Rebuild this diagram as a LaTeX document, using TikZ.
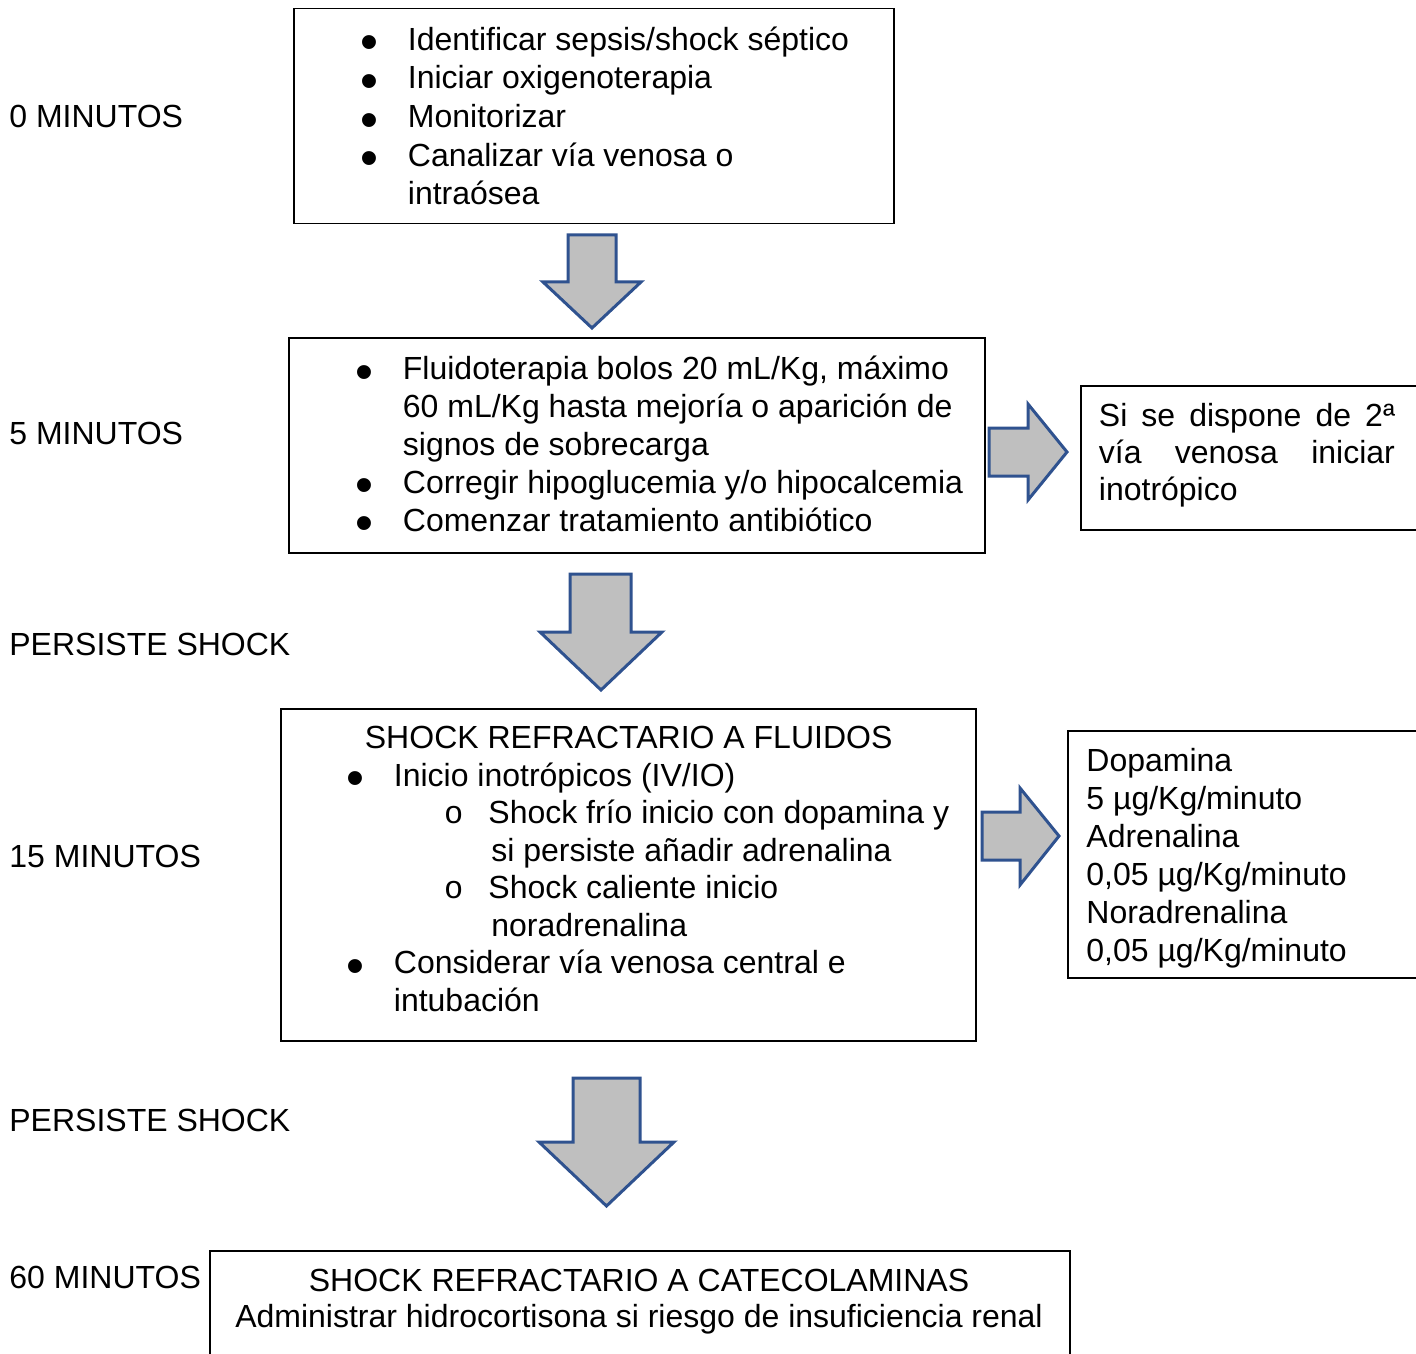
\documentclass[tikz,border=0pt]{standalone}
\usepackage{fontspec}
\usepackage{graphicx}
\setmainfont{Liberation Sans}
\newfontfamily\monofont{Liberation Mono}
\definecolor{arrowblue}{HTML}{2F528F}
\definecolor{arrowgray}{HTML}{BFBFBF}
\newcommand{\itm}{\makebox[23.75pt][l]{\smash{\raisebox{-0.3em}{\scalebox{1.6}{\textbullet}}}}}
\newcommand{\subitm}{\makebox[22.2pt][l]{\monofont o}}
\begin{document}
\begin{tikzpicture}[
        x = 0.5pt, y = -0.5pt, % pixel grid, y down
        box/.style = {draw, line width=0.75pt, inner sep=0pt, anchor=north west},
        txt/.style = {inner sep=0pt, align=left, anchor=base west}, % base = last line
        blockarrow/.style = {draw=arrowblue, fill=arrowgray, line width=1.5pt},
        font = \fontsize{16}{19}\selectfont,
    ]
    \useasboundingbox (0,0) rectangle (1416,1353);
    \clip (0,0) rectangle (1416,1353);
    % time labels
    \node[txt] (l0) at (9,128) {0 MINUTOS};
    \node[txt] (l5) at (9,444) {5 MINUTOS};
    \node[txt] (p1) at (9,655) {PERSISTE SHOCK};
    \node[txt] (l15) at (9,867) {15 MINUTOS};
    \node[txt] (p2) at (9,1131) {PERSISTE SHOCK};
    \node[txt] (l60) at (9,1288) {60 MINUTOS};
    % boxes
    \node[box, minimum width=300pt, minimum height=107.5pt] (b0) at (293,8) {};
    \node[box, minimum width=348pt, minimum height=107.5pt] (b5) at (288,337) {};
    \node[box, minimum width=170pt, minimum height=72pt] (s5) at (1080,385) {};
    \node[box, minimum width=347.5pt, minimum height=166pt] (b15) at (280,708) {};
    \node[box, minimum width=176.5pt, minimum height=123.5pt] (s15) at (1067,730) {};
    \node[box, minimum width=430pt, minimum height=60pt] (b60) at (209,1250) {};
    % box texts
    \node[txt, font=\fontsize{16}{19.35}\selectfont] (t0) at (360,205) {%
        \itm Identificar sepsis/shock séptico\\
        \itm Iniciar oxigenoterapia\\
        \itm Monitorizar\\
        \itm Canalizar vía venosa o\\
        \hspace*{23.75pt}intraósea};
    \node[txt, font=\fontsize{16}{18.9}\selectfont] (t5) at (355,531) {%
        \itm Fluidoterapia bolos 20 mL/Kg, máximo\\
        \hspace*{23.75pt}60 mL/Kg hasta mejoría o aparición de\\
        \hspace*{23.75pt}signos de sobrecarga\\
        \itm Corregir hipoglucemia y/o hipocalcemia\\
        \itm Comenzar tratamiento antibiótico};
    \node[txt, text width=148pt, align=justify, font=\fontsize{16}{18.5}\selectfont] (ts5) at (1098.5,426)
        {Si se dispone de 2ª vía venosa iniciar \mbox{inotrópico}};
    \node[txt, font=\fontsize{16}{18.75}\selectfont] (t15) at (346,1011) {%
        \hspace*{9.25pt}SHOCK REFRACTARIO A FLUIDOS\\
        \itm Inicio inotrópicos (IV/IO)\\
        \hspace*{48.8pt}\subitm Shock frío inicio con dopamina y\\
        \hspace*{72.5pt}si persiste añadir adrenalina\\
        \hspace*{48.8pt}\subitm Shock caliente inicio\\
        \hspace*{72.5pt}noradrenalina\\
        \itm Considerar vía venosa central e\\
        \hspace*{23.75pt}intubación};
    \node[txt] (ts15) at (1086,961) {%
        Dopamina\\
        5 µg/Kg/minuto\\
        Adrenalina\\
        0,05 µg/Kg/minuto\\
        Noradrenalina\\
        0,05 µg/Kg/minuto};
    \node[txt, align=center, anchor=base, font=\fontsize{16}{18}\selectfont] (t60) at (639,1327) {%
        SHOCK REFRACTARIO A CATECOLAMINAS\\
        Administrar hidrocortisona si riesgo de insuficiencia renal};
    % block arrows
    \draw[blockarrow] (568,235) -- (616,235) -- (616,282) -- (641,282) -- (592,328) -- (543,282) -- (568,282) -- cycle;
    \draw[blockarrow] (570,574) -- (631,574) -- (631,632) -- (662,632) -- (601,690) -- (540,632) -- (570,632) -- cycle;
    \draw[blockarrow] (573,1078) -- (640,1078) -- (640,1142) -- (674,1142) -- (606.5,1206) -- (539,1142) -- (573,1142) -- cycle;
    \draw[blockarrow] (989,428) -- (1028,428) -- (1028,404) -- (1067,452) -- (1028,500) -- (1028,476) -- (989,476) -- cycle;
    \draw[blockarrow] (982,812) -- (1020,812) -- (1020,788) -- (1059,836) -- (1020,885) -- (1020,860) -- (982,860) -- cycle;
\end{tikzpicture}
\end{document}
